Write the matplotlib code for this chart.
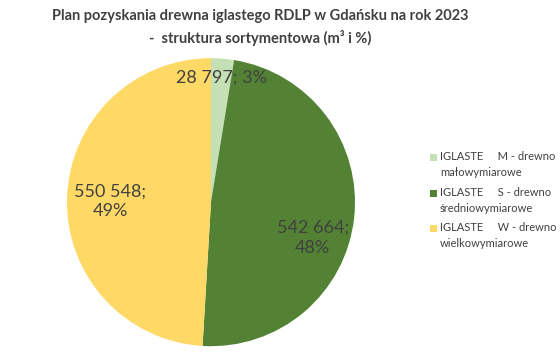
import matplotlib
matplotlib.use('Agg')
import matplotlib.pyplot as plt
from matplotlib.patches import Rectangle
import numpy as np

# data
categories = ['IGLASTE     M - drewno\nmałowymiarowe',
              'IGLASTE     S - drewno\nśredniowymiarowe',
              'IGLASTE     W - drewno\nwielkowymiarowe']
volumes = [28797, 542664, 550548]
percents = [3, 48, 49]
point_labels = ['28 797; 3%', '542 664;\n48%', '550 548;\n49%']

colors = ['#C5E0B4', '#548235', '#FFD966']
txt_col = '#404040'

plt.rcParams['font.family'] = ['Lato', 'DejaVu Sans']

fig = plt.figure(figsize=(5.6, 3.52), dpi=100)
ax = fig.add_axes([0.1196, 0.0165, 0.5143, 0.8182])

wedges, texts = ax.pie(volumes, colors=colors, startangle=90, counterclock=False,
                       labels=point_labels, labeldistance=0.75,
                       textprops=dict(color=txt_col, fontsize=13, ha='center',
                                      va='center', linespacing=1.3),
                       wedgeprops=dict(linewidth=0))
ax.set_aspect('equal')
ax.set_xlim(-1, 1)
ax.set_ylim(-1, 1)

# label placement (radius, angle in degrees) like Excel best fit
label_pos = [(0.87, 85.4), (0.75, -19.4), (0.70, 179.4)]
for t, (r, a) in zip(texts, label_pos):
    t.set_position((r * np.cos(np.radians(a)), r * np.sin(np.radians(a))))
    t.set_ha('center')
    t.set_va('center')
    t.set_multialignment('center')

fig.text(0.464, 0.955, 'Plan pozyskania drewna iglastego RDLP w Gdańsku na rok 2023',
         ha='center', va='center', fontsize=10.5, fontweight='bold', color=txt_col)
fig.text(0.464, 0.893, '-  struktura sortymentowa (m³ i %)',
         ha='center', va='center', fontsize=10.5, fontweight='bold', color=txt_col)

# legend: square aligned with first line of each entry
W, H = 560., 352.
leg_y = [157, 193, 228]
for w, lab, y in zip(wedges, categories, leg_y):
    fig.patches.append(Rectangle((430 / W, 1 - (y + 3.5) / H), 7 / W, 7 / H,
                                 facecolor=w.get_facecolor(), edgecolor='none',
                                 transform=fig.transFigure, figure=fig))
    fig.text(440 / W, 1 - (y - 6) / H, lab, ha='left', va='top', fontsize=8,
             color=txt_col, linespacing=1.55)

fig.savefig('out.png', dpi=100)
